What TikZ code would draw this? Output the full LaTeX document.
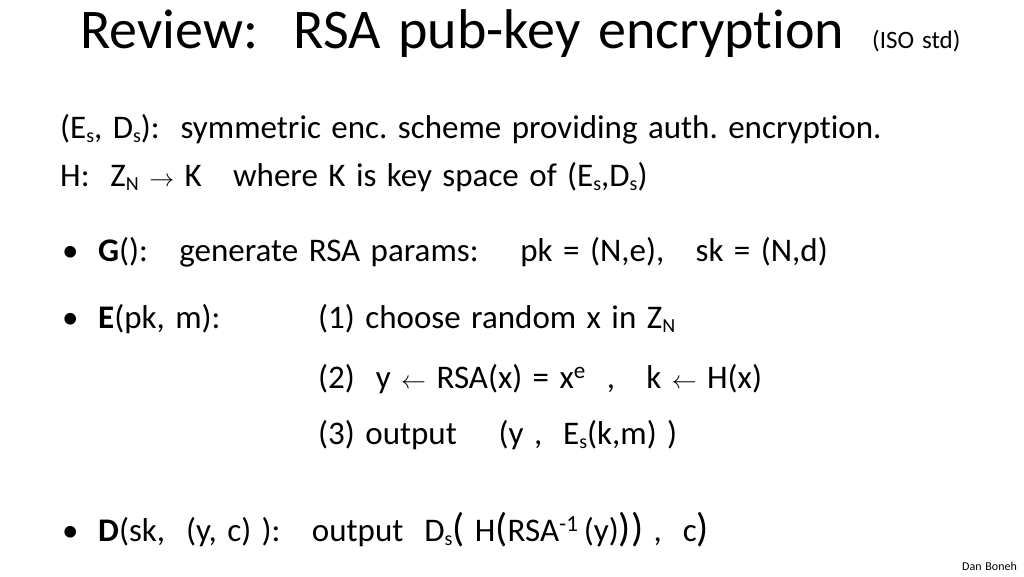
\documentclass[tikz,border=0pt]{standalone}
\usepackage{fontspec}
\setmainfont[RawFeature=-liga,WordSpace=1.4]{Carlito}
\frenchspacing
\usetikzlibrary{positioning}
\tikzset{
	txt/.style={anchor=base west, inner sep=0pt, font=\fontsize{33}{39}\selectfont},
	ttl/.style={anchor=base west, inner sep=0pt, font=\fontsize{56}{66}\selectfont}
}
\newcommand{\sub}[1]{\raisebox{-0.3ex}{\fontsize{20}{20}\selectfont #1}}
\newcommand{\bigp}[1]{{\fontsize{40}{40}\selectfont #1}}
\begin{document}
\begin{tikzpicture}[x=1pt,y=-1pt]
	\useasboundingbox (0,0) rectangle (1024,576);
	\node[ttl] (title) at (80,48) {Review:\ \ RSA pub-key encryption};
	\node[txt, font=\fontsize{25}{30}\selectfont] (iso) at (872,48) {(ISO std)};
	%%%%%
	\node[txt] (sym) at (60,138) {(E\sub{s}, D\sub{s}):\ \ symmetric enc. scheme providing auth. encryption.};
	\node[txt] (hash) at (60,186) {H:\ \ Z\sub{N} $\rightarrow$ K\ \ \ where\ K is key space of (E\sub{s},D\sub{s})};
	%%%%%
	\node[txt] (b1) at (62,261) {•};
	\node[txt] (gen) at (98,261) {\textbf{G}():\ \ \ generate RSA params:\ \ \ \ pk = (N,e),\ \ \ sk = (N,d)};
	\node[txt] (b2) at (62,328) {•};
	\node[txt] (enc) at (98,328) {\textbf{E}(pk, m):};
	\node[txt] (s1) at (318,328) {(1) choose random x in Z\sub{N}};
	\node[txt] (s2) at (318,388) {(2)\ \ y $\leftarrow$ RSA(x) = x\textsuperscript{e}\ \ ,\ \ \ k $\leftarrow$ H(x)};
	\node[txt] (s3) at (318,444) {(3) output\ \ \ \ (y ,\ \ E\sub{s}(k,m) )};
	\node[txt] (b3) at (62,541) {•};
	\node[txt] (dec) at (98,541) {\textbf{D}(sk,\ \ (y, c) ):\ \ \ output\ \ D\sub{s}\bigp{(}\ H\bigp{(}RSA\textsuperscript{-1}\,(y)\bigp{)}\bigp{)} ,\ \ c\bigp{)}};
	\node[txt, font=\fontsize{12}{14}\selectfont] (name) at (962,570) {Dan Boneh};
\end{tikzpicture}
\end{document}
